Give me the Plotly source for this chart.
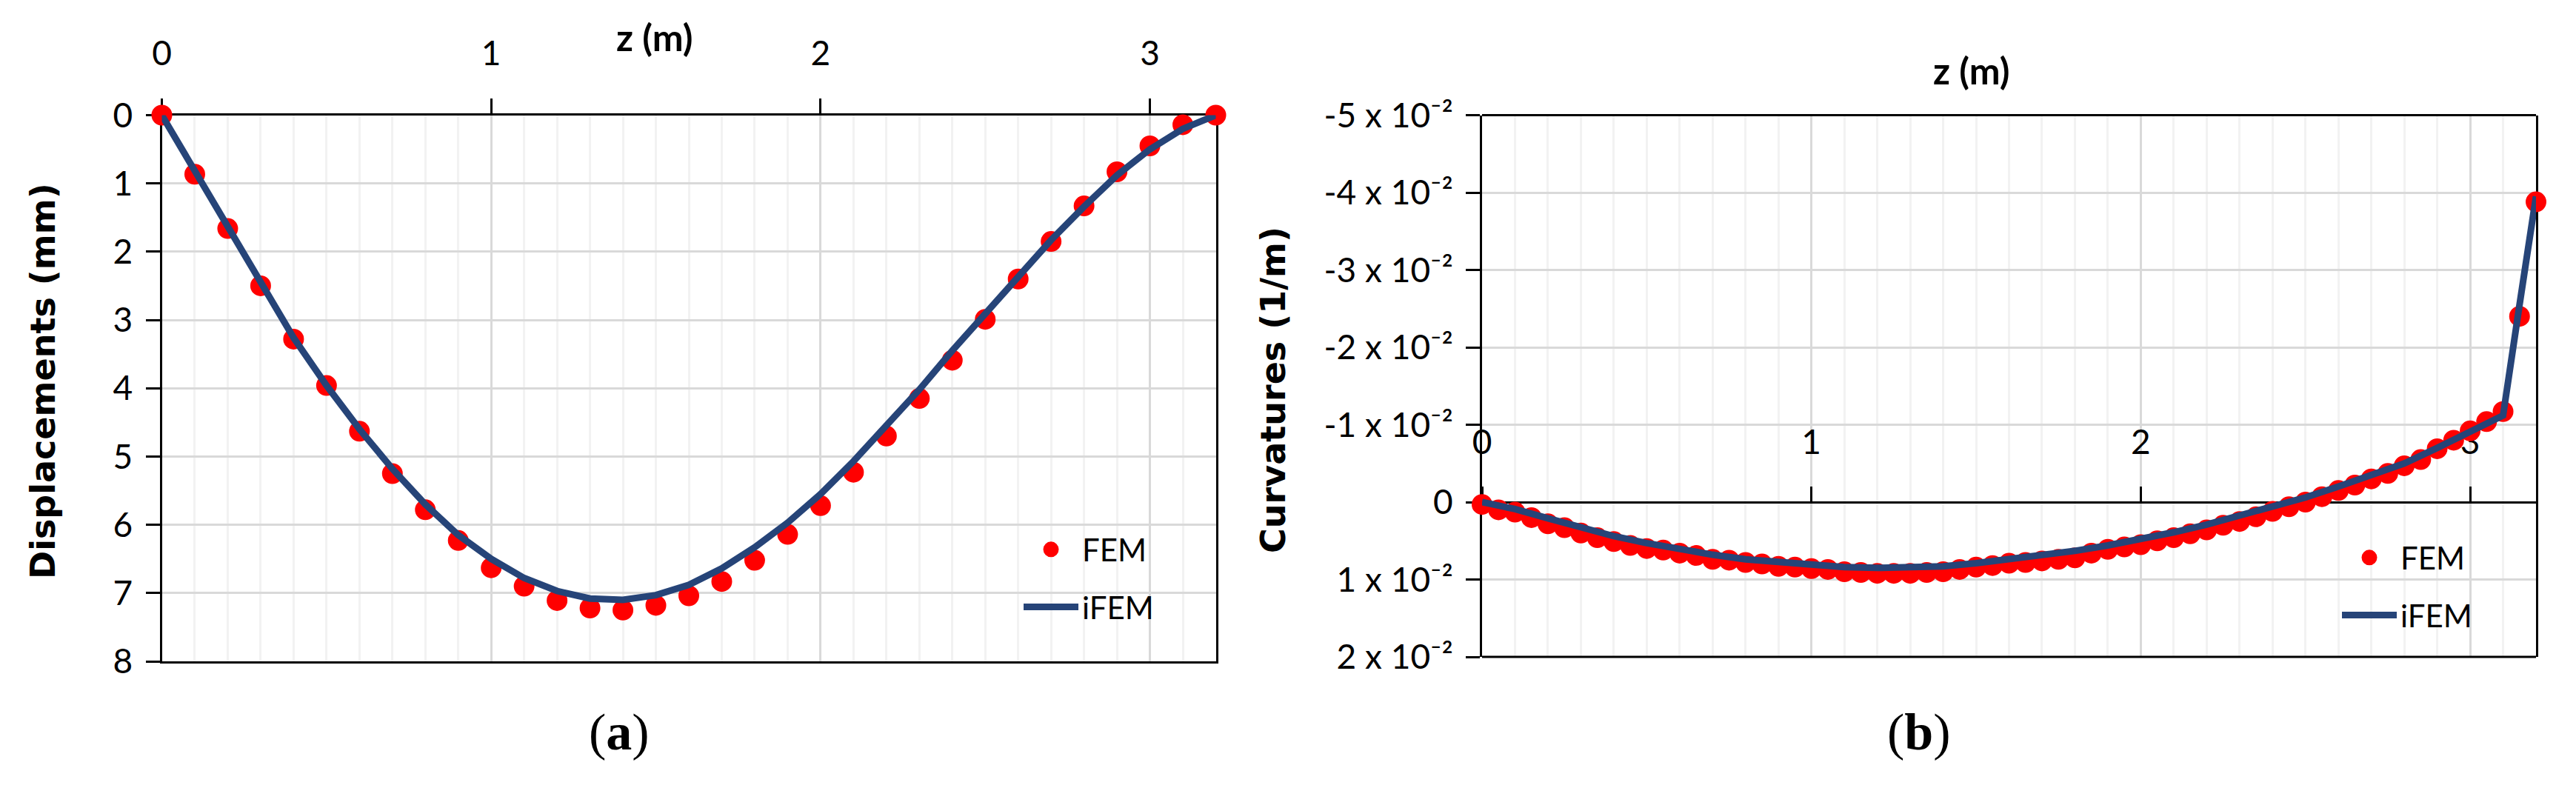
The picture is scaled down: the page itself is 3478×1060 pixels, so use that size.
import plotly.graph_objects as go

# panel (a): displacements
z_a = [0, 0.1, 0.2, 0.3, 0.4, 0.5, 0.6, 0.7, 0.8, 0.9, 1.0, 1.1, 1.2, 1.3, 1.4, 1.5, 1.6,
       1.7, 1.8, 1.9, 2.0, 2.1, 2.2, 2.3, 2.4, 2.5, 2.6, 2.7, 2.8, 2.9, 3.0, 3.1, 3.2]
fem_a = [0, 0.865, 1.66, 2.5, 3.28, 3.96, 4.63, 5.25, 5.78, 6.23, 6.63, 6.9, 7.11, 7.22, 7.25, 7.18, 7.04,
         6.83, 6.52, 6.14, 5.72, 5.23, 4.7, 4.15, 3.59, 2.99, 2.4, 1.85, 1.33, 0.83, 0.45, 0.14, 0]
ifem_a = [0, 0.82, 1.66, 2.48, 3.26, 3.96, 4.6, 5.18, 5.7, 6.15, 6.5, 6.78, 6.97, 7.08, 7.1, 7.03, 6.88,
          6.64, 6.33, 5.97, 5.55, 5.07, 4.56, 4.02, 3.45, 2.9, 2.36, 1.83, 1.34, 0.88, 0.5, 0.2, 0]

# panel (b): curvatures, in units of 10^-2 1/m
z_fem_b = [0, 0.05, 0.1, 0.15, 0.2, 0.25, 0.3, 0.35, 0.4, 0.45, 0.5, 0.55, 0.6, 0.65, 0.7, 0.75,
           0.8, 0.85, 0.9, 0.95, 1.0, 1.05, 1.1, 1.15, 1.2, 1.25, 1.3, 1.35, 1.4, 1.45, 1.5, 1.55,
           1.6, 1.65, 1.7, 1.75, 1.8, 1.85, 1.9, 1.95, 2.0, 2.05, 2.1, 2.15, 2.2, 2.25, 2.3, 2.35,
           2.4, 2.45, 2.5, 2.55, 2.6, 2.65, 2.7, 2.75, 2.8, 2.85, 2.9, 2.95, 3.0, 3.05, 3.1, 3.15, 3.2]
fem_b = [0.03, 0.1, 0.13, 0.2, 0.28, 0.33, 0.4, 0.46, 0.51, 0.56, 0.6, 0.62, 0.66, 0.69, 0.74, 0.75,
         0.78, 0.8, 0.83, 0.84, 0.86, 0.87, 0.9, 0.91, 0.92, 0.92, 0.92, 0.91, 0.9, 0.87, 0.84, 0.82,
         0.79, 0.78, 0.76, 0.74, 0.72, 0.66, 0.61, 0.58, 0.55, 0.5, 0.46, 0.41, 0.36, 0.3, 0.25, 0.19,
         0.12, 0.06, 0.0, -0.07, -0.15, -0.22, -0.3, -0.37, -0.47, -0.55, -0.69, -0.8, -0.92, -1.04, -1.17, -2.4, -3.88]
z_ifem_b = [0, 0.1, 0.2, 0.3, 0.4, 0.5, 0.6, 0.7, 0.8, 0.9, 1.0, 1.1, 1.2, 1.3, 1.4, 1.5, 1.6, 1.7,
            1.8, 1.9, 2.0, 2.1, 2.2, 2.3, 2.4, 2.5, 2.6, 2.7, 2.8, 2.9, 3.0, 3.1, 3.15, 3.2]
ifem_b = [0, 0.09, 0.21, 0.33, 0.44, 0.53, 0.61, 0.68, 0.74, 0.78, 0.81, 0.84, 0.85, 0.85, 0.83, 0.79, 0.74, 0.69,
          0.63, 0.56, 0.48, 0.39, 0.29, 0.18, 0.06, -0.06, -0.2, -0.35, -0.5, -0.7, -0.91, -1.12, -2.55, -3.95]

ticks_b = [-5, -4, -3, -2, -1, 0, 1, 2]
tick_labels_b = ["-5 x 10⁻²", "-4 x 10⁻²", "-3 x 10⁻²", "-2 x 10⁻²", "-1 x 10⁻²", "0", "1 x 10⁻²", "2 x 10⁻²"]

# the page body has an 8px margin, so the figure is a little smaller than the window
PAGE = 8
W, H = 3462, 1044
RED = "#FF0000"
BLUE = "#264478"
TICK_FONT = dict(family="Lato", size=46, color="black")


def fx(px):
    return (px - PAGE) / W


def fy(py):
    return 1 - (py - PAGE) / H


fig = go.Figure()


def add_panel(z_fem, y_fem, z_ifem, y_ifem, xa, ya, legend):
    fig.add_trace(go.Scatter(x=z_fem, y=y_fem, name="FEM", mode="markers", xaxis=xa, yaxis=ya,
                             marker=dict(color=RED, size=23, line=dict(color=RED, width=5)), cliponaxis=False,
                             legend=legend, legendgroup=legend + "fem"))
    fig.add_trace(go.Scatter(x=z_ifem, y=y_ifem, name="iFEM", mode="lines", xaxis=xa, yaxis=ya,
                             line=dict(color=BLUE, width=9), cliponaxis=False,
                             legend=legend, legendgroup=legend + "ifem"))


add_panel(z_a, fem_a, z_a, ifem_a, "x", "y", "legend")
add_panel(z_fem_b, fem_b, z_ifem_b, ifem_b, "x2", "y2", "legend2")


def x_axis():
    return dict(range=[0, 3.2], tickvals=[0, 1, 2, 3], ticks="outside", ticklen=20, tickwidth=3,
                tickcolor="black", tickfont=TICK_FONT, side="top", showline=True, linecolor="black",
                linewidth=3, showgrid=True, gridcolor="#D9D9D9", gridwidth=3, zeroline=False,
                layer="below traces", ticklabelstandoff=26, automargin=False,
                minor=dict(dtick=0.1, showgrid=True, gridcolor="#F2F2F2", gridwidth=3, ticks=""))


def y_axis():
    return dict(ticks="outside", ticklen=19, tickwidth=3, tickcolor="black", tickfont=TICK_FONT,
                showline=True, linecolor="black", linewidth=3, mirror=True, showgrid=True,
                gridcolor="#D9D9D9", gridwidth=3, zeroline=False, layer="below traces", automargin=False)


xaxis_a = x_axis()
xaxis_a.update(domain=[fx(218.5), fx(1641.5)], anchor="y", mirror=True)
yaxis_a = y_axis()
yaxis_a.update(domain=[fy(893), fy(155.5)], range=[8, 0], tickvals=list(range(9)), anchor="x",
               ticklabelstandoff=8)

# x axis of (b) crosses at y = 0
xaxis_b = x_axis()
xaxis_b.update(domain=[fx(2001), fx(3424)], anchor="free", position=fy(678))
yaxis_b = y_axis()
yaxis_b.update(domain=[fy(887), fy(155.5)], range=[2, -5], tickvals=ticks_b, ticktext=tick_labels_b,
               anchor="x2", ticklabelstandoff=8)


def legend_box(x, y):
    return dict(x=fx(x), y=fy(y), xanchor="left", yanchor="top", bgcolor="rgba(0,0,0,0)",
                font=dict(family="Lato", size=42, color="black"), itemwidth=74, itemsizing="trace",
                traceorder="grouped", tracegroupgap=20)


def note(text, x, y, font, size, **kw):
    return dict(text=text, x=fx(x), y=fy(y), xref="paper", yref="paper", showarrow=False,
                xanchor="center", yanchor="middle", font=dict(family=font, size=size, color="black"), **kw)


def frame_line(y):
    return dict(type="line", xref="x2 domain", yref="y2 domain", x0=0, x1=1, y0=y, y1=y,
                line=dict(color="black", width=3), layer="above")


fig.update_layout(
    width=W, height=H, margin=dict(l=0, r=0, t=0, b=0), paper_bgcolor="white", plot_bgcolor="white",
    showlegend=True, xaxis=xaxis_a, yaxis=yaxis_a, xaxis2=xaxis_b, yaxis2=yaxis_b,
    legend=legend_box(1377, 708), legend2=legend_box(3157, 719),
    annotations=[
        note("<b>z (m)</b>", 884, 50, "Lato", 50),
        note("<b>z (m)</b>", 2661, 95, "Lato", 50),
        note("<b>Displacements (mm)</b>", 58, 515, "DejaVu Sans", 46, textangle=-90),
        note("<b>Curvatures (1/m)</b>", 1719, 527, "DejaVu Sans", 46, textangle=-90),
        note("(<b>a</b>)", 836, 988, "Liberation Serif", 70),
        note("(<b>b</b>)", 2591, 988, "Liberation Serif", 70),
    ],
    shapes=[frame_line(0), frame_line(1)],
)

fig.write_html("out.html")
